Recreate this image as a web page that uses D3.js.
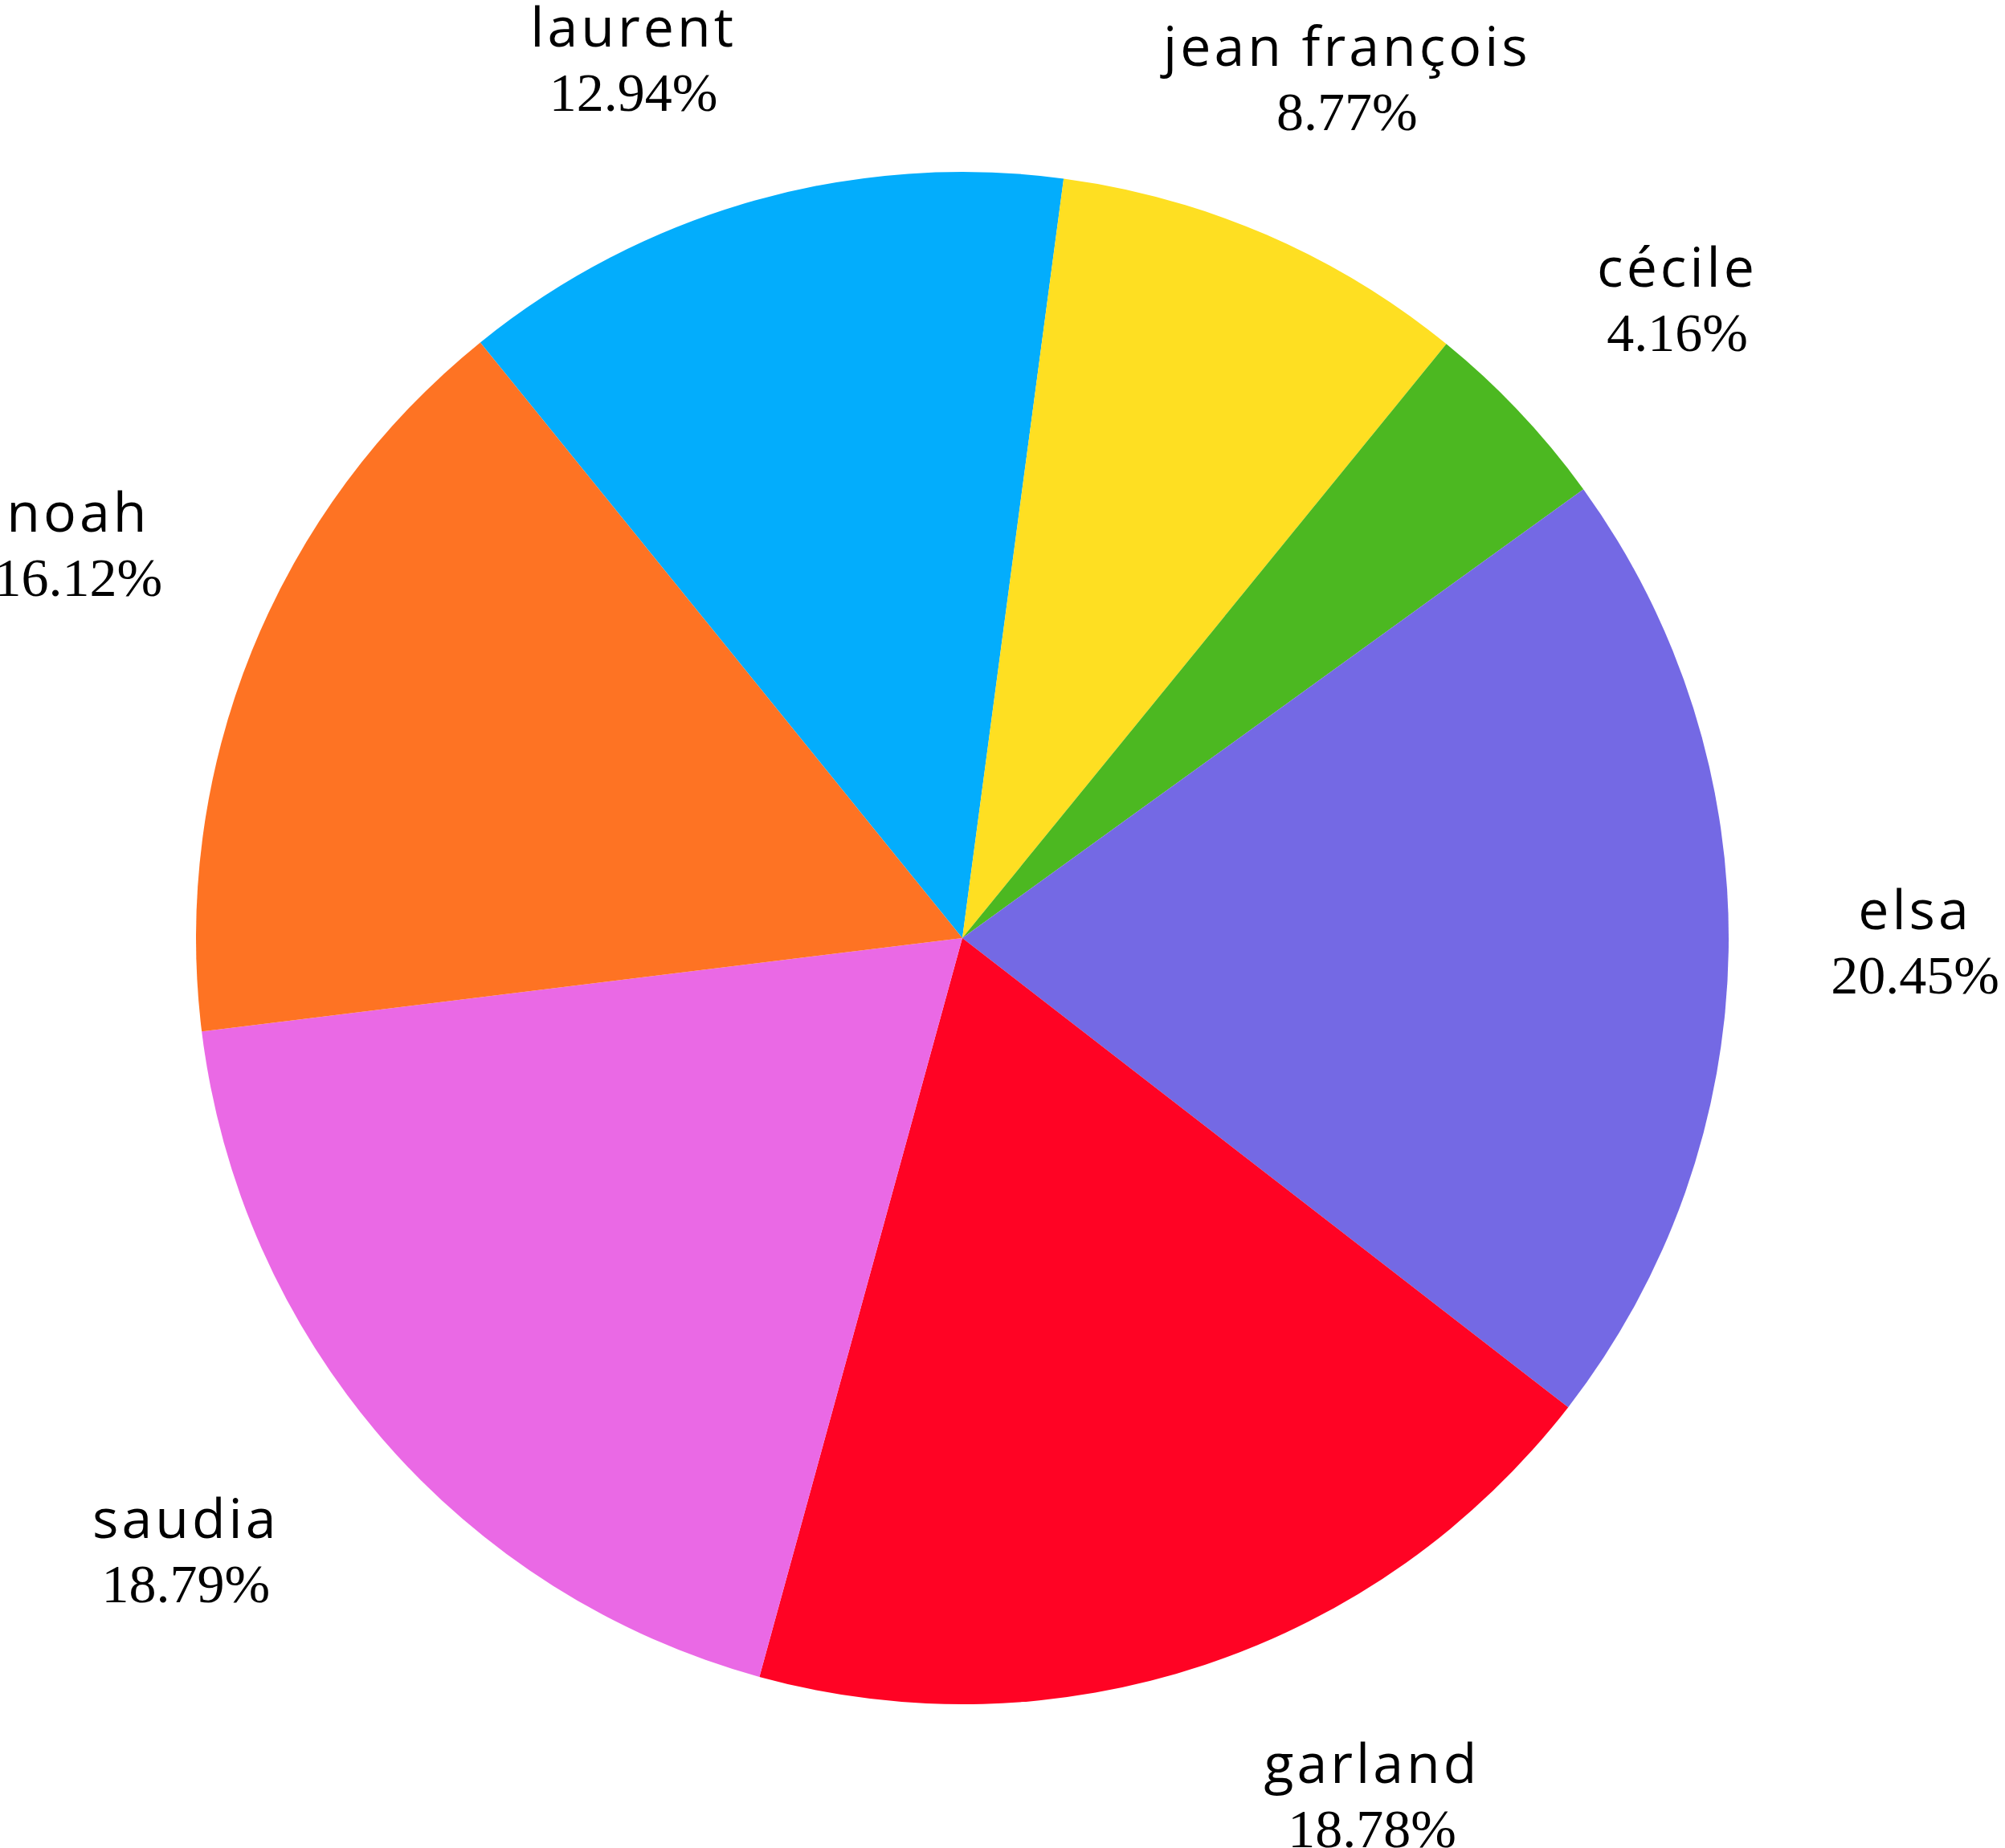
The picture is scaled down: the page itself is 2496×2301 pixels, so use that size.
<!DOCTYPE html>
<html>
<head>
<meta charset="utf-8">
<script src="https://cdn.jsdelivr.net/npm/d3@7"></script>
<style>
  html, body { margin: 0; padding: 0; background: #ffffff; }
  svg { display: block; }
</style>
</head>
<body>
<svg id="chart" width="2496" height="2301"></svg>
<script>
// ---- data ----
const categories = ["laurent", "jean françois", "cécile", "elsa", "garland", "saudia", "noah"];
const values = [12.94, 8.77, 4.16, 20.45, 18.78, 18.79, 16.12];
const percentLabels = ["12.94%", "8.77%", "4.16%", "20.45%", "18.78%", "18.79%", "16.12%"];
const colors = ["#03adfc", "#fedf22", "#4cb821", "#7469e4", "#ff0324", "#ea69e5", "#fe7323"];

// ---- layout (label tweaks, not data) ----
const labelAngleNudgeDeg = [-4.9, 0.8, 1.7, -0.5, -7.0, 2.4, 1.8];
const labelRadiusNudge = [-21, -16, 6, 1, 2, 49, 18];

const W = 2496, H = 2301;
const cx = 1198, cy = 1168, R = 954, labelR = 1185;
const startDeg = -38.98;

const svg = d3.select("#chart");
const g = svg.append("g").attr("transform", `translate(${cx},${cy})`);

const data = categories.map((c, i) => ({ name: c, value: values[i], pct: percentLabels[i], color: colors[i], i }));

const pie = d3.pie()
  .sort(null)
  .value(d => d.value)
  .startAngle(startDeg * Math.PI / 180)
  .endAngle(startDeg * Math.PI / 180 + 2 * Math.PI);

const arcs = pie(data);
const arc = d3.arc().innerRadius(0).outerRadius(R);

g.selectAll("path.slice")
  .data(arcs)
  .join("path")
  .attr("class", "slice")
  .attr("d", arc)
  .attr("fill", d => d.data.color)
  .attr("stroke", "none");

const lab = g.selectAll("g.label")
  .data(arcs)
  .join("g")
  .attr("class", "label")
  .attr("transform", d => {
    const a = (d.startAngle + d.endAngle) / 2 + labelAngleNudgeDeg[d.data.i] * Math.PI / 180;
    const r = labelR + labelRadiusNudge[d.data.i];
    return `translate(${r * Math.sin(a)},${-r * Math.cos(a)})`;
  });

lab.append("text")
  .attr("text-anchor", "middle")
  .attr("y", -20)
  .attr("font-family", "'Open Sans', sans-serif")
  .attr("font-size", 68)
  .attr("letter-spacing", 4)
  .attr("fill", "#000")
  .text(d => d.data.name);

lab.append("text")
  .attr("text-anchor", "middle")
  .attr("y", 60)
  .attr("font-family", "'Liberation Serif', serif")
  .attr("font-size", 68)
  .attr("fill", "#000")
  .text(d => d.data.pct);
</script>
</body>
</html>
